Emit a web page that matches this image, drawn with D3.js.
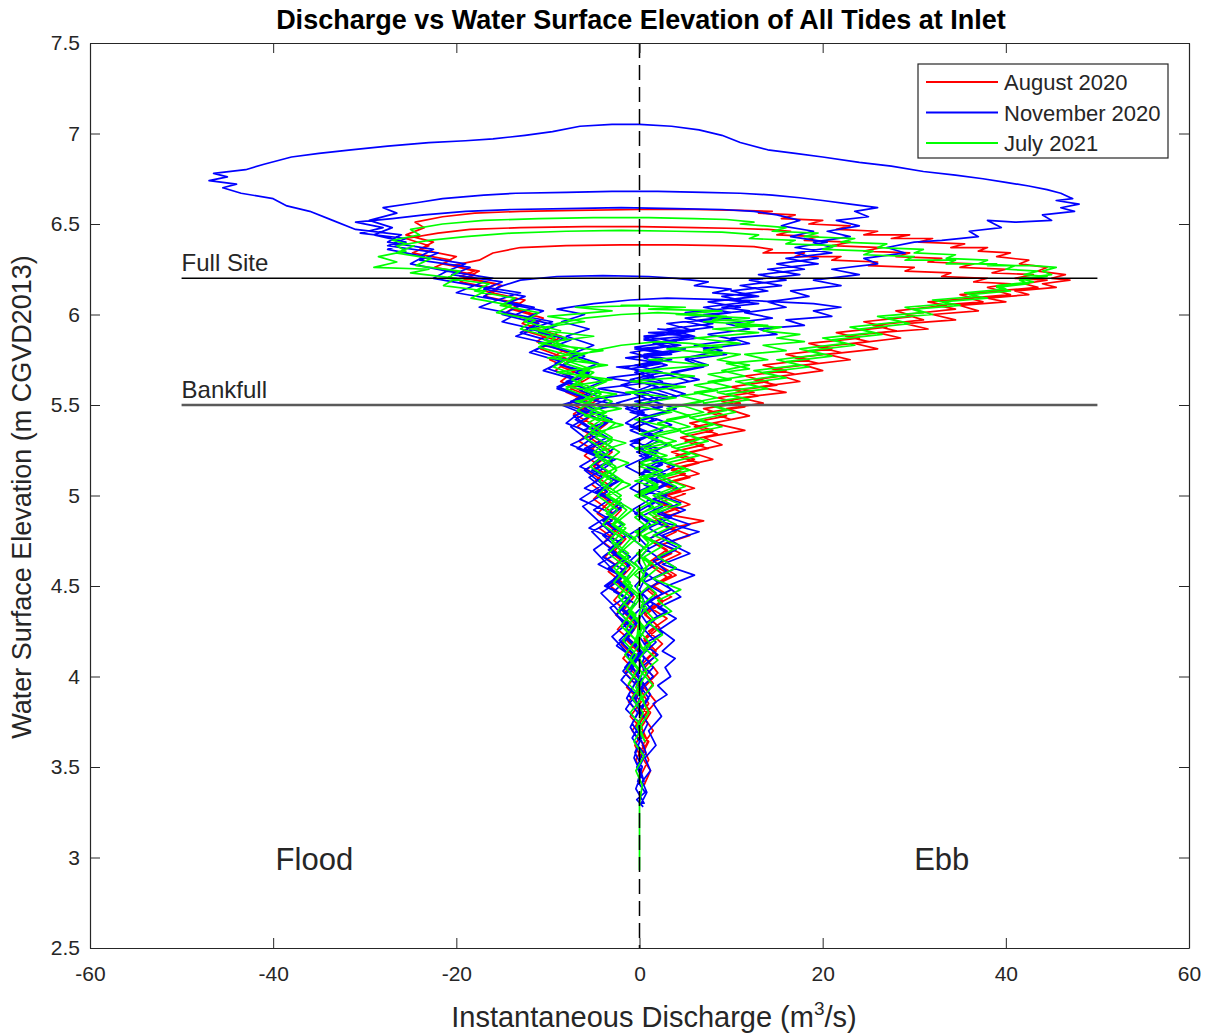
<!DOCTYPE html>
<html>
<head>
<meta charset="utf-8">
<script src="https://cdn.jsdelivr.net/npm/d3@7"></script>
<style>
  body { margin: 0; background: #fff; }
  text { font-family: "Liberation Sans", Arial, sans-serif; fill: #262626; }
</style>
</head>
<body>
<div id="chart"></div>
<script>
// [discharge m3/s, water surface elevation m], tide by tide
const augTide1 = [[0.5,3.4],[1.2,3.48],[0.2,3.56],[1.0,3.64],[-0.3,3.72],[0.8,3.8],[-0.6,3.88],[0.5,3.96],[-1.0,4.04],[0.2,4.12],[-1.4,4.2],[-0.3,4.28],[-1.8,4.36],[-0.6,4.44],[-2.5,4.52],[-1.0,4.6],[-3.0,4.68],[-1.5,4.76],[-3.5,4.84],[-2.0,4.92],[-4.2,5.0],[-2.5,5.08],[-5.0,5.16],[-3.0,5.24],[-5.5,5.32],[-3.5,5.4],[-6.5,5.47],[-4.5,5.53],[-7.5,5.59],[-5.5,5.65],[-8.5,5.71],[-7.0,5.77],[-10.0,5.83],[-8.5,5.88],[-12.0,5.93],[-10.5,5.98],[-14.0,6.03],[-12.5,6.08],[-16.5,6.12],[-15.0,6.16],[-19.0,6.2],[-17.5,6.24],[-21.5,6.28],[-20.0,6.32],[-24.0,6.36],[-22.5,6.4],[-25.5,6.44],[-23.5,6.48],[-24.5,6.51],[-21.5,6.54],[-18.0,6.56],[-13.0,6.57],[-7.0,6.575],[0.0,6.58],[6.0,6.58],[11.0,6.575],[14.5,6.57],[13.0,6.56],[17.0,6.55],[15.5,6.53],[20.0,6.52],[18.5,6.5],[23.0,6.49],[21.5,6.47],[26.0,6.46],[24.5,6.44],[29.5,6.44],[27.5,6.42],[32.0,6.42],[30.5,6.4],[35.5,6.39],[34.0,6.37],[38.0,6.37],[37.0,6.35],[40.5,6.34],[39.0,6.32],[42.5,6.3],[41.5,6.28],[44.5,6.26],[43.5,6.24],[46.5,6.22],[45.0,6.2],[47.0,6.19],[44.0,6.17],[45.5,6.15],[41.0,6.13],[42.5,6.11],[38.0,6.09],[40.0,6.07],[35.0,6.05],[37.0,6.02],[32.0,6.0],[34.5,5.97],[29.0,5.95],[31.5,5.92],[26.0,5.9],[28.5,5.87],[23.5,5.84],[26.0,5.81],[20.5,5.78],[23.0,5.75],[18.0,5.72],[20.0,5.69],[15.5,5.66],[17.5,5.63],[13.0,5.6],[16.0,5.57],[11.0,5.54],[13.5,5.51],[9.5,5.48],[12.0,5.44],[8.0,5.4],[11.5,5.36],[7.0,5.32],[9.0,5.28],[5.5,5.24],[8.0,5.2],[4.5,5.16],[6.5,5.12],[3.5,5.08],[6.0,5.04],[3.0,5.0],[5.5,4.95],[2.5,4.9],[7.0,4.86],[3.5,4.82],[5.5,4.78],[2.5,4.73],[4.5,4.68],[2.0,4.62],[4.0,4.56],[1.5,4.5],[3.5,4.44],[1.2,4.38],[3.0,4.32],[1.0,4.25],[2.5,4.18],[0.8,4.1],[2.0,4.02],[0.5,3.94],[1.8,3.86],[0.4,3.78],[1.5,3.7],[0.3,3.62],[1.0,3.54],[0.2,3.46]];
const augTide2 = [[-0.4,3.54],[0.5,3.62],[-0.8,3.7],[0.3,3.78],[-1.2,3.86],[0.0,3.94],[-1.6,4.02],[-0.4,4.1],[-2.0,4.18],[-0.8,4.26],[-2.6,4.34],[-1.2,4.42],[-3.2,4.5],[-1.6,4.58],[-3.8,4.66],[-2.2,4.74],[-4.4,4.82],[-2.8,4.9],[-5.0,4.98],[-3.4,5.06],[-5.8,5.14],[-4.0,5.22],[-6.6,5.3],[-4.6,5.38],[-7.2,5.45],[-5.2,5.51],[-8.0,5.57],[-6.2,5.63],[-9.2,5.69],[-7.6,5.75],[-10.8,5.81],[-9.2,5.86],[-12.6,5.91],[-11.0,5.96],[-14.6,6.01],[-13.0,6.06],[-17.0,6.1],[-15.4,6.14],[-19.6,6.18],[-18.0,6.22],[-22.4,6.26],[-20.6,6.3],[-24.8,6.34],[-23.0,6.38],[-25.5,6.42],[-22.0,6.45],[-18.5,6.47],[-13.0,6.48],[-6.0,6.485],[0.0,6.485],[6.0,6.48],[11.0,6.475],[14.0,6.47],[16.5,6.46],[15.0,6.44],[19.5,6.43],[18.0,6.41],[23.0,6.4],[21.0,6.38],[26.5,6.37],[24.5,6.35],[29.5,6.34],[28.0,6.32],[33.0,6.31],[31.5,6.29],[36.5,6.28],[35.0,6.26],[40.0,6.25],[38.5,6.23],[43.0,6.22],[41.0,6.2],[44.5,6.19],[42.0,6.17],[43.5,6.15],[39.0,6.13],[40.5,6.11],[36.0,6.09],[37.5,6.07],[32.5,6.05],[34.5,6.03],[29.0,6.0],[31.0,5.97],[25.5,5.94],[28.0,5.91],[22.5,5.88],[25.0,5.85],[19.5,5.82],[22.0,5.79],[17.0,5.76],[19.5,5.73],[14.5,5.7],[17.0,5.67],[12.5,5.64],[15.0,5.61],[10.5,5.58],[13.0,5.55],[9.0,5.52],[11.5,5.49],[7.5,5.46],[10.0,5.42],[6.0,5.38],[8.5,5.34],[5.0,5.3],[7.5,5.26],[4.0,5.22],[6.5,5.18],[3.5,5.14],[5.5,5.1],[2.5,5.06],[5.0,5.01],[2.0,4.96],[4.5,4.91],[1.5,4.86],[4.0,4.8],[1.5,4.74],[3.5,4.68],[1.0,4.62],[3.0,4.55],[0.8,4.48],[2.5,4.41],[0.6,4.34],[2.2,4.27],[0.5,4.2],[1.8,4.12],[0.4,4.04],[1.5,3.96],[0.3,3.88],[1.2,3.8],[0.2,3.72],[0.9,3.64],[0.1,3.56]];
const augTide3 = [[-0.5,3.62],[0.4,3.7],[-1.0,3.78],[0.2,3.86],[-1.4,3.94],[-0.2,4.02],[-1.8,4.1],[-0.5,4.18],[-2.4,4.26],[-1.0,4.34],[-2.8,4.42],[-1.4,4.5],[-3.4,4.58],[-1.8,4.66],[-3.9,4.74],[-2.4,4.82],[-4.6,4.9],[-3.0,4.98],[-5.2,5.06],[-3.6,5.14],[-6.0,5.22],[-4.2,5.3],[-6.8,5.38],[-5.0,5.45],[-7.6,5.51],[-6.0,5.57],[-8.6,5.63],[-7.0,5.69],[-9.8,5.75],[-8.4,5.8],[-11.2,5.85],[-9.8,5.9],[-12.8,5.95],[-11.4,6.0],[-14.8,6.05],[-13.4,6.09],[-17.0,6.13],[-15.6,6.17],[-19.6,6.21],[-18.0,6.24],[-20.5,6.27],[-17.5,6.3],[-16.0,6.34],[-13.0,6.37],[-8.0,6.38],[-2.0,6.385],[4.0,6.385],[9.0,6.38],[12.5,6.375],[14.5,6.36],[13.5,6.34],[18.0,6.34],[17.0,6.32],[22.0,6.32],[21.0,6.3],[26.0,6.29],[25.0,6.27],[30.0,6.26],[29.0,6.24],[34.0,6.23],[33.0,6.21],[38.0,6.2],[36.5,6.18],[40.5,6.17],[38.0,6.15],[39.5,6.13],[35.0,6.11],[36.5,6.09],[31.5,6.07],[33.5,6.05],[28.0,6.02],[30.0,5.99],[24.5,5.96],[27.0,5.93],[21.5,5.9],[24.0,5.87],[18.5,5.84],[21.0,5.81],[16.0,5.78],[18.5,5.75],[13.5,5.72],[16.0,5.69],[11.5,5.66],[14.0,5.63],[10.0,5.6],[12.5,5.57],[8.5,5.54],[11.0,5.51],[7.0,5.48],[9.5,5.44],[5.5,5.4],[8.0,5.36],[4.5,5.32],[7.0,5.28],[3.5,5.24],[6.0,5.2],[3.0,5.16],[5.0,5.12],[2.0,5.08],[4.5,5.03],[1.5,4.98],[4.0,4.93],[1.5,4.88],[3.5,4.82],[1.0,4.76],[3.0,4.7],[1.0,4.63],[3.5,4.56],[1.0,4.49],[2.5,4.42],[0.5,4.35],[2.0,4.28],[0.5,4.21],[1.8,4.14],[0.3,4.07],[1.5,4.0],[0.2,3.92],[1.0,3.85],[0.1,3.78]];

const novTide1 = [[0.4,3.28],[-0.3,3.32],[0.6,3.36],[-0.2,3.42],[0.3,3.5],[-0.5,3.58],[0.2,3.66],[-0.8,3.74],[0.1,3.82],[-1.2,3.9],[-0.3,3.98],[-1.6,4.05],[-0.5,4.12],[-2.2,4.2],[-0.8,4.27],[-1.9,4.34],[-0.4,4.4],[-2.8,4.47],[-1.2,4.54],[-3.4,4.6],[-1.0,4.66],[-2.6,4.72],[-4.0,4.78],[-1.8,4.84],[-3.6,4.9],[-2.0,4.96],[-4.8,5.02],[-2.4,5.08],[-5.2,5.14],[-3.0,5.2],[-6.0,5.26],[-3.5,5.32],[-5.5,5.38],[-7.2,5.44],[-4.0,5.49],[-7.0,5.53],[-5.0,5.58],[-8.0,5.63],[-5.5,5.68],[-9.2,5.73],[-6.5,5.78],[-10.5,5.83],[-8.0,5.87],[-12.0,5.92],[-9.5,5.96],[-13.5,6.0],[-11.5,6.04],[-15.5,6.08],[-13.0,6.12],[-18.0,6.16],[-16.0,6.2],[-21.0,6.24],[-19.0,6.28],[-24.0,6.32],[-22.5,6.36],[-27.5,6.4],[-26.0,6.44],[-31.0,6.47],[-33.5,6.52],[-36.0,6.57],[-38.5,6.6],[-40.0,6.64],[-43.5,6.67],[-45.5,6.7],[-44.0,6.72],[-47.0,6.74],[-45.0,6.76],[-46.5,6.78],[-43.0,6.8],[-41.0,6.83],[-38.0,6.87],[-35.0,6.89],[-31.5,6.91],[-27.5,6.93],[-23.0,6.95],[-19.0,6.96],[-16.0,6.97],[-12.5,6.99],[-9.5,7.01],[-6.5,7.04],[-3.0,7.05],[0.0,7.05],[3.5,7.04],[6.5,7.02],[9.0,6.99],[11.0,6.95],[14.0,6.91],[17.0,6.89],[20.0,6.87],[24.0,6.84],[27.5,6.82],[31.0,6.79],[34.5,6.77],[37.5,6.75],[40.0,6.73],[42.5,6.71],[44.5,6.69],[46.0,6.67],[47.3,6.64],[45.5,6.63],[48.0,6.61],[46.0,6.59],[47.5,6.57],[44.0,6.55],[45.0,6.52],[41.0,6.51],[38.0,6.52],[39.5,6.48],[36.0,6.46],[37.0,6.43],[33.0,6.41],[30.0,6.4],[27.0,6.37],[29.0,6.34],[24.5,6.31],[26.0,6.28],[21.0,6.25],[24.0,6.22],[19.0,6.19],[22.0,6.16],[16.5,6.13],[18.5,6.1],[14.0,6.07],[16.0,6.04],[11.5,6.01],[14.5,5.98],[9.5,5.95],[12.0,5.92],[7.5,5.89],[10.5,5.86],[6.0,5.83],[9.0,5.8],[5.0,5.76],[7.5,5.72],[3.5,5.68],[6.5,5.64],[2.5,5.6],[5.0,5.56],[1.5,5.52],[4.0,5.48],[1.0,5.44],[3.5,5.39],[0.5,5.34],[3.0,5.28],[0.8,5.22],[3.8,5.16],[1.2,5.1],[4.2,5.04],[1.5,4.98],[5.0,4.92],[2.0,4.86],[6.5,4.8],[3.0,4.74],[5.5,4.68],[2.5,4.62],[6.0,4.56],[3.0,4.5],[4.5,4.44],[2.0,4.38],[4.0,4.32],[2.2,4.26],[3.8,4.2],[2.5,4.14],[3.9,4.1],[2.8,4.05],[3.4,4.0],[2.0,3.95],[3.0,3.9],[1.5,3.85],[2.4,3.78],[1.0,3.7],[1.8,3.62],[0.6,3.55],[1.2,3.48],[0.3,3.42],[0.8,3.36],[0.2,3.3]];
const novTide2 = [[0.5,3.3],[-0.4,3.38],[0.2,3.46],[-0.6,3.55],[0.0,3.64],[-1.0,3.72],[-0.2,3.8],[-1.4,3.88],[-0.5,3.96],[-1.8,4.03],[-0.6,4.1],[-2.5,4.17],[-1.0,4.24],[-2.0,4.31],[-3.2,4.38],[-1.5,4.44],[-3.8,4.5],[-2.2,4.56],[-4.5,4.62],[-2.5,4.68],[-4.0,4.74],[-5.2,4.8],[-3.0,4.86],[-5.0,4.92],[-3.2,4.98],[-6.0,5.04],[-4.0,5.1],[-6.5,5.16],[-4.5,5.22],[-7.5,5.28],[-5.0,5.34],[-8.0,5.4],[-6.5,5.46],[-8.5,5.5],[-6.0,5.54],[-9.0,5.59],[-7.0,5.64],[-10.5,5.69],[-8.5,5.74],[-12.0,5.79],[-10.0,5.84],[-13.5,5.88],[-11.5,5.92],[-15.0,5.96],[-13.5,6.0],[-17.5,6.04],[-15.5,6.08],[-20.0,6.12],[-18.0,6.16],[-22.5,6.2],[-21.0,6.24],[-25.0,6.28],[-23.5,6.32],[-27.5,6.36],[-25.5,6.4],[-29.0,6.44],[-27.0,6.48],[-29.5,6.52],[-26.5,6.56],[-28.0,6.59],[-24.0,6.62],[-21.5,6.64],[-17.0,6.66],[-13.5,6.67],[-8.0,6.675],[-3.0,6.68],[2.0,6.68],[7.0,6.675],[11.0,6.67],[14.5,6.66],[17.5,6.645],[20.0,6.63],[23.0,6.61],[26.0,6.59],[23.5,6.57],[25.0,6.54],[21.5,6.52],[24.0,6.49],[20.5,6.46],[23.0,6.43],[19.0,6.4],[21.0,6.37],[17.0,6.34],[19.5,6.31],[15.0,6.28],[18.0,6.25],[13.0,6.22],[16.0,6.19],[11.0,6.16],[14.0,6.13],[9.0,6.1],[12.0,6.07],[7.0,6.04],[10.0,6.01],[5.0,5.98],[8.0,5.95],[3.0,5.92],[6.0,5.88],[1.5,5.84],[4.5,5.8],[0.5,5.76],[3.0,5.72],[-0.5,5.68],[2.5,5.63],[-0.2,5.58],[2.0,5.53],[-0.5,5.48],[1.5,5.42],[-1.0,5.36],[2.0,5.3],[-0.3,5.24],[2.5,5.18],[0.0,5.12],[3.0,5.06],[0.5,5.0],[2.5,4.94],[0.0,4.88],[3.5,4.82],[1.0,4.76],[4.0,4.7],[1.5,4.64],[3.0,4.58],[0.5,4.52],[2.5,4.46],[0.8,4.4],[2.0,4.33],[0.5,4.26],[1.8,4.19],[0.3,4.12],[1.5,4.05],[0.2,3.98],[1.2,3.9],[0.0,3.82],[0.9,3.74],[0.1,3.66],[0.7,3.58],[0.0,3.5],[0.5,3.42]];
const novTide3 = [[-0.3,3.5],[0.4,3.58],[-0.8,3.66],[0.1,3.74],[-1.5,3.82],[-0.4,3.9],[-2.0,3.98],[-0.8,4.06],[-1.5,4.14],[-3.0,4.22],[-1.2,4.3],[-2.6,4.38],[-4.2,4.46],[-2.0,4.54],[-3.5,4.62],[-5.0,4.7],[-2.8,4.78],[-4.5,4.86],[-6.2,4.94],[-3.5,5.02],[-5.5,5.1],[-3.0,5.18],[-6.8,5.26],[-4.5,5.34],[-7.0,5.42],[-5.0,5.48],[-7.5,5.52],[-4.5,5.57],[-7.8,5.62],[-5.5,5.67],[-8.5,5.72],[-6.0,5.77],[-9.5,5.82],[-7.5,5.86],[-11.0,5.9],[-9.0,5.94],[-12.5,5.98],[-10.5,6.02],[-14.5,6.06],[-12.5,6.1],[-17.0,6.14],[-15.0,6.18],[-20.5,6.22],[-18.5,6.26],[-24.0,6.3],[-22.0,6.34],[-27.5,6.38],[-25.5,6.42],[-30.5,6.45],[-28.0,6.48],[-31.0,6.51],[-27.0,6.53],[-23.5,6.55],[-19.0,6.57],[-14.0,6.58],[-8.0,6.585],[-2.0,6.59],[4.0,6.585],[9.0,6.58],[12.5,6.57],[15.0,6.55],[17.5,6.52],[15.5,6.49],[19.0,6.46],[16.5,6.43],[20.5,6.4],[17.0,6.37],[21.0,6.34],[16.0,6.31],[19.5,6.28],[14.0,6.25],[17.5,6.22],[12.0,6.19],[15.5,6.16],[10.0,6.13],[13.0,6.1],[7.5,6.07],[11.0,6.04],[5.0,6.01],[8.5,5.98],[3.0,5.95],[6.0,5.91],[0.5,5.87],[4.0,5.83],[-1.0,5.79],[2.5,5.75],[-1.5,5.71],[1.5,5.66],[-2.0,5.61],[1.0,5.56],[-2.5,5.51],[0.5,5.46],[-1.5,5.4],[1.5,5.34],[-1.0,5.28],[1.0,5.22],[-1.5,5.16],[0.8,5.1],[-1.0,5.04],[1.2,4.98],[-0.8,4.92],[1.0,4.85],[-1.2,4.78],[0.5,4.71],[-1.0,4.64],[0.8,4.57],[-0.5,4.5],[1.0,4.42],[-0.6,4.34],[0.6,4.26],[-0.4,4.18],[0.5,4.1],[-0.2,4.02],[0.4,3.94],[-0.1,3.86],[0.3,3.78]];
const novTide4 = [[-0.5,3.86],[0.2,3.94],[-1.0,4.02],[-0.2,4.1],[-1.8,4.18],[-0.6,4.26],[-2.5,4.34],[-1.0,4.42],[-3.5,4.5],[-1.5,4.58],[-4.0,4.66],[-2.0,4.74],[-5.5,4.82],[-3.0,4.9],[-6.5,4.98],[-4.0,5.06],[-6.0,5.14],[-3.5,5.22],[-5.5,5.3],[-7.5,5.38],[-5.0,5.45],[-8.0,5.5],[-6.0,5.55],[-9.0,5.6],[-7.0,5.65],[-10.0,5.7],[-8.0,5.75],[-11.5,5.8],[-9.5,5.85],[-13.0,5.9],[-11.0,5.95],[-15.0,6.0],[-13.0,6.05],[-17.0,6.1],[-15.5,6.15],[-13.0,6.19],[-9.0,6.21],[-4.0,6.215],[1.0,6.21],[4.0,6.2],[7.5,6.18],[6.0,6.16],[10.0,6.14],[8.0,6.12],[12.5,6.1],[9.5,6.08],[13.0,6.06],[9.0,6.04],[12.0,6.02],[7.0,6.0],[10.0,5.98],[5.0,5.96],[8.0,5.93],[3.0,5.9],[6.5,5.87],[1.5,5.84],[5.0,5.81],[0.5,5.78],[3.5,5.75],[-0.5,5.72],[2.5,5.68],[-1.0,5.64],[2.0,5.6],[-0.5,5.56],[1.5,5.52],[-1.5,5.48],[1.0,5.44],[-1.0,5.38],[2.0,5.32],[0.0,5.26],[2.5,5.2],[0.5,5.14],[3.5,5.08],[1.0,5.02],[4.5,4.96],[2.0,4.9],[5.5,4.84],[2.5,4.78],[4.5,4.72],[2.0,4.66],[4.0,4.6],[1.5,4.54],[3.5,4.48],[1.0,4.42],[3.0,4.36],[0.8,4.3],[2.5,4.24],[0.5,4.18],[2.0,4.12],[0.4,4.06],[1.5,4.0],[0.2,3.94],[1.0,3.88],[0.0,3.8]];
const novTide5 = [[-0.6,3.9],[0.3,3.98],[-1.0,4.06],[0.0,4.14],[-1.6,4.22],[-0.4,4.3],[-2.2,4.38],[-0.8,4.46],[-2.8,4.54],[-1.2,4.62],[-3.4,4.7],[-1.5,4.78],[-4.0,4.86],[-2.0,4.94],[-4.5,5.02],[-2.5,5.1],[-5.0,5.18],[-2.8,5.26],[-5.5,5.34],[-3.0,5.42],[-6.0,5.48],[-3.5,5.53],[-6.5,5.58],[-4.0,5.63],[-7.0,5.68],[-4.5,5.73],[-7.5,5.78],[-5.0,5.83],[-8.0,5.88],[-5.5,5.92],[-8.5,5.96],[-6.0,6.0],[-9.0,6.03],[-5.0,6.06],[-1.0,6.08],[3.0,6.09],[7.0,6.085],[11.0,6.08],[15.0,6.07],[19.0,6.06],[22.0,6.04],[19.0,6.02],[21.0,5.99],[16.0,5.97],[18.0,5.94],[13.0,5.92],[15.0,5.89],[10.0,5.87],[12.0,5.84],[7.0,5.81],[9.5,5.78],[5.0,5.75],[7.0,5.71],[3.0,5.67],[5.5,5.63],[1.5,5.59],[4.0,5.55],[0.5,5.51],[3.0,5.46],[0.0,5.41],[2.5,5.36],[-0.5,5.3],[2.0,5.24],[0.0,5.18],[2.8,5.12],[0.5,5.06],[3.0,5.0],[1.0,4.94],[3.5,4.88],[1.0,4.82],[3.0,4.76],[0.8,4.7],[2.5,4.64],[0.5,4.58],[2.0,4.52],[0.3,4.46],[1.5,4.4],[0.2,4.34],[1.0,4.28],[0.0,4.22],[0.8,4.16],[-0.2,4.1],[0.5,4.04],[0.0,3.98]];
const novTide6 = [[-0.8,4.06],[0.2,4.14],[-1.4,4.22],[-0.2,4.3],[-2.0,4.38],[-0.6,4.46],[-2.6,4.54],[-1.0,4.62],[-3.2,4.7],[-1.4,4.78],[-3.8,4.86],[-1.8,4.94],[-4.4,5.02],[-2.2,5.08],[-5.0,5.14],[-2.6,5.2],[-5.6,5.26],[-3.0,5.31],[-6.2,5.36],[-3.4,5.41],[-6.8,5.46],[-2.0,5.5],[-5.5,5.53],[-1.0,5.56],[-4.5,5.59],[0.5,5.62],[-3.5,5.65],[1.5,5.68],[-2.5,5.71],[2.5,5.73],[-1.5,5.76],[3.5,5.78],[-0.5,5.81],[4.5,5.83],[0.5,5.86],[5.5,5.88],[1.0,5.9],[6.0,5.91],[2.0,5.92],[5.0,5.9],[0.5,5.88],[4.0,5.85],[-0.5,5.82],[3.0,5.79],[-1.5,5.76],[2.5,5.73],[-1.0,5.7],[3.5,5.67],[0.0,5.64],[4.0,5.61],[0.5,5.58],[3.0,5.55],[-0.5,5.52],[2.5,5.49],[-1.0,5.46],[2.0,5.42],[-0.5,5.38],[1.5,5.34],[-1.0,5.3],[2.0,5.26],[0.0,5.22],[2.5,5.17],[0.3,5.12],[2.0,5.07],[-0.2,5.02],[1.5,4.96],[-0.5,4.9],[1.2,4.84],[-0.3,4.78],[1.0,4.71],[-0.2,4.64],[0.8,4.56],[0.0,4.48],[0.6,4.4],[0.0,4.32]];

const julTide1 = [[0.0,2.93],[0.0,3.1],[0.0,3.3],[0.3,3.4],[-0.4,3.48],[0.5,3.56],[-0.6,3.64],[0.3,3.72],[-1.0,3.8],[0.2,3.88],[-1.2,3.96],[-0.2,4.04],[-1.6,4.12],[-0.4,4.2],[-2.0,4.28],[-0.8,4.36],[-2.3,4.44],[-1.0,4.52],[-2.8,4.6],[-1.2,4.68],[-3.2,4.76],[-1.6,4.84],[-3.8,4.92],[-2.0,5.0],[-4.4,5.08],[-2.6,5.16],[-5.0,5.24],[-3.0,5.32],[-5.6,5.4],[-3.6,5.46],[-6.4,5.52],[-4.4,5.58],[-7.4,5.64],[-5.4,5.7],[-8.8,5.76],[-6.8,5.81],[-10.4,5.86],[-8.6,5.91],[-12.6,5.96],[-11.0,6.01],[-15.2,6.05],[-13.6,6.09],[-18.0,6.13],[-16.4,6.17],[-21.0,6.2],[-19.6,6.24],[-24.4,6.27],[-22.8,6.31],[-26.6,6.34],[-24.6,6.38],[-27.0,6.41],[-24.0,6.44],[-25.0,6.47],[-21.5,6.5],[-17.0,6.52],[-11.0,6.53],[-5.0,6.535],[1.0,6.535],[6.0,6.53],[9.5,6.525],[12.5,6.51],[11.0,6.5],[16.0,6.48],[14.5,6.46],[19.5,6.45],[18.0,6.43],[23.5,6.42],[22.0,6.4],[27.0,6.39],[26.0,6.37],[31.0,6.36],[30.0,6.34],[34.5,6.33],[33.5,6.31],[38.0,6.3],[37.0,6.28],[41.0,6.27],[40.0,6.25],[43.5,6.24],[42.0,6.22],[44.5,6.21],[41.5,6.19],[42.5,6.17],[39.0,6.15],[40.5,6.13],[36.0,6.11],[38.0,6.09],[33.0,6.07],[35.0,6.05],[30.0,6.03],[32.0,6.0],[27.0,5.98],[29.5,5.95],[24.0,5.92],[26.5,5.89],[21.0,5.86],[23.5,5.83],[18.5,5.8],[21.0,5.77],[16.0,5.74],[18.5,5.71],[13.5,5.68],[16.0,5.65],[11.5,5.62],[14.0,5.59],[9.5,5.56],[12.0,5.53],[8.0,5.5],[10.5,5.46],[6.5,5.42],[9.0,5.38],[5.0,5.34],[7.5,5.3],[4.0,5.26],[6.5,5.22],[3.0,5.18],[5.5,5.14],[2.5,5.1],[5.0,5.05],[2.0,5.0],[4.5,4.95],[1.5,4.9],[4.0,4.84],[1.5,4.78],[4.5,4.72],[2.0,4.66],[4.0,4.6],[1.5,4.54],[4.5,4.48],[2.0,4.42],[3.5,4.36],[1.0,4.3],[2.5,4.23],[0.5,4.16],[2.0,4.09],[0.3,4.02],[1.5,3.95],[0.2,3.88],[1.0,3.8],[0.0,3.72],[0.6,3.64]];
const julTide2 = [[-0.3,3.72],[0.4,3.8],[-0.8,3.88],[0.2,3.96],[-1.4,4.04],[-0.3,4.12],[-1.8,4.2],[-0.6,4.28],[-2.4,4.36],[-1.0,4.44],[-2.8,4.52],[-1.4,4.6],[-3.4,4.68],[-1.8,4.76],[-4.0,4.84],[-2.4,4.92],[-4.6,5.0],[-3.0,5.08],[-5.4,5.16],[-3.4,5.24],[-6.0,5.32],[-4.0,5.4],[-6.8,5.47],[-5.0,5.53],[-8.0,5.59],[-6.0,5.65],[-9.4,5.71],[-7.4,5.77],[-11.0,5.82],[-9.2,5.87],[-13.0,5.92],[-11.4,5.97],[-15.6,6.01],[-14.0,6.05],[-18.4,6.09],[-16.8,6.13],[-21.4,6.16],[-20.0,6.2],[-25.0,6.23],[-23.0,6.25],[-29.0,6.26],[-26.5,6.29],[-28.5,6.32],[-25.5,6.35],[-26.5,6.38],[-23.0,6.41],[-19.0,6.43],[-14.0,6.45],[-8.0,6.46],[-2.0,6.465],[4.0,6.46],[9.0,6.455],[13.0,6.44],[12.0,6.42],[17.0,6.41],[16.0,6.39],[21.5,6.38],[20.0,6.36],[25.5,6.35],[24.5,6.33],[30.0,6.32],[29.0,6.3],[34.5,6.3],[33.5,6.28],[39.0,6.28],[38.0,6.27],[43.0,6.27],[45.5,6.26],[44.0,6.24],[45.0,6.22],[41.5,6.2],[43.0,6.18],[39.0,6.16],[40.0,6.14],[35.5,6.12],[37.0,6.1],[32.0,6.08],[34.0,6.06],[29.0,6.04],[31.0,6.01],[26.0,5.99],[28.5,5.96],[23.0,5.93],[25.5,5.9],[20.0,5.87],[22.5,5.84],[17.5,5.81],[20.0,5.78],[15.0,5.75],[17.5,5.72],[12.5,5.69],[15.0,5.66],[10.5,5.63],[13.0,5.6],[8.5,5.57],[11.0,5.54],[7.0,5.51],[9.5,5.47],[5.5,5.43],[8.0,5.39],[4.5,5.35],[6.5,5.31],[3.5,5.27],[5.5,5.23],[2.5,5.19],[5.0,5.15],[2.0,5.1],[4.0,5.05],[1.5,5.0],[3.5,4.95],[1.0,4.9],[3.0,4.84],[0.5,4.78],[2.5,4.72],[0.5,4.66],[2.0,4.6],[0.3,4.53],[1.8,4.46],[0.2,4.39],[1.5,4.32],[0.0,4.25],[1.2,4.18],[0.0,4.1],[0.8,4.02],[-0.1,3.94],[0.5,3.86]];
const julTide3 = [[-0.4,3.94],[0.3,4.02],[-1.0,4.1],[0.0,4.18],[-1.5,4.26],[-0.4,4.34],[-2.0,4.42],[-0.8,4.5],[-2.6,4.58],[-1.2,4.66],[-3.0,4.74],[-1.5,4.82],[-3.6,4.9],[-2.0,4.98],[-4.2,5.06],[-2.5,5.14],[-4.8,5.22],[-3.0,5.3],[-5.5,5.37],[-3.6,5.44],[-6.2,5.5],[-4.2,5.56],[-7.0,5.62],[-5.0,5.68],[-8.2,5.73],[-6.2,5.78],[-9.6,5.83],[-8.0,5.87],[-11.0,5.91],[-9.0,5.95],[-6.0,5.98],[-2.0,6.0],[2.0,6.01],[6.0,6.0],[9.5,5.99],[8.0,5.97],[12.5,5.96],[10.5,5.94],[15.5,5.93],[13.5,5.91],[17.5,5.89],[15.0,5.87],[18.0,5.85],[13.5,5.83],[16.0,5.8],[11.5,5.78],[14.0,5.75],[9.5,5.73],[12.0,5.7],[7.5,5.67],[10.0,5.64],[6.0,5.61],[8.5,5.58],[4.5,5.55],[7.0,5.52],[3.0,5.48],[5.5,5.44],[2.0,5.4],[4.5,5.36],[1.0,5.32],[3.5,5.28],[0.5,5.24],[3.0,5.2],[0.0,5.16],[2.5,5.12],[-0.5,5.08],[2.0,5.04],[0.0,5.0],[2.5,4.95],[0.0,4.9],[2.0,4.85],[-0.5,4.8],[1.5,4.74],[-0.3,4.68],[1.2,4.62],[-0.5,4.56],[1.0,4.5],[-0.3,4.44],[0.8,4.38],[-0.2,4.32],[0.6,4.26],[-0.1,4.2],[0.5,4.14]];
const julTide4 = [[-0.5,4.2],[0.2,4.28],[-1.2,4.36],[-0.2,4.44],[-1.8,4.52],[-0.5,4.6],[-2.4,4.68],[-1.0,4.76],[-3.0,4.84],[-1.4,4.92],[-3.6,5.0],[-1.8,5.08],[-4.2,5.16],[-2.2,5.24],[-4.8,5.32],[-2.6,5.4],[-5.4,5.46],[-3.0,5.52],[-6.0,5.58],[-3.6,5.63],[-6.6,5.68],[-4.2,5.72],[-7.2,5.76],[-5.0,5.8],[-2.0,5.83],[2.0,5.85],[5.5,5.84],[9.0,5.82],[7.0,5.8],[11.0,5.78],[8.5,5.75],[12.0,5.72],[9.0,5.69],[11.5,5.66],[7.5,5.63],[10.0,5.6],[6.0,5.57],[8.5,5.54],[4.5,5.5],[7.0,5.46],[3.0,5.42],[5.5,5.38],[1.5,5.34],[4.0,5.3],[0.5,5.26],[3.0,5.22],[0.0,5.18],[2.5,5.14],[0.0,5.1],[2.0,5.05],[-0.5,5.0],[1.5,4.94],[-0.5,4.88],[1.0,4.82],[-0.8,4.76],[0.8,4.7],[-0.5,4.63],[0.5,4.56],[-0.3,4.49],[0.4,4.42],[0.0,4.35]];
const julTide5 = [[-0.3,4.2],[0.4,4.28],[-1.0,4.36],[0.2,4.44],[-1.6,4.52],[0.0,4.6],[-2.2,4.68],[-0.4,4.76],[-2.8,4.84],[-0.8,4.92],[-3.4,5.0],[-1.0,5.06],[-4.0,5.12],[-1.2,5.18],[-4.6,5.24],[-1.5,5.29],[-5.2,5.34],[-1.8,5.39],[-6.0,5.44],[-2.0,5.48],[-7.0,5.52],[-2.5,5.56],[-8.0,5.6],[-3.0,5.64],[-9.0,5.68],[-3.5,5.72],[-10.0,5.76],[-4.0,5.8],[-11.0,5.84],[-5.0,5.88],[-12.0,5.92],[-6.0,5.96],[-10.0,5.99],[-3.0,6.02],[-7.0,6.04],[1.0,6.05],[-2.0,6.05],[5.0,6.04],[1.0,6.03],[9.0,6.02],[4.0,6.0],[12.0,5.98],[7.0,5.96],[14.0,5.94],[8.0,5.92],[13.0,5.9],[6.0,5.87],[11.0,5.84],[3.0,5.81],[9.0,5.78],[1.0,5.75],[7.5,5.72],[0.0,5.69],[6.0,5.66],[-1.0,5.63],[5.0,5.6],[-1.5,5.57],[4.0,5.54],[-1.0,5.5],[3.5,5.46],[-0.5,5.42],[3.0,5.38],[0.0,5.34],[2.5,5.3],[-0.5,5.26],[2.0,5.22],[0.0,5.18],[2.5,5.14],[0.5,5.1],[2.0,5.06],[0.0,5.02],[1.5,4.97],[-0.3,4.92],[1.2,4.86],[-0.2,4.8],[1.0,4.74],[0.0,4.68],[0.8,4.6],[0.0,4.52]];

const seriesNames = ["August 2020", "November 2020", "July 2021"];
const seriesColors = ["#ff0000", "#0000ff", "#00ff00"];
const seriesData = [
  [...augTide1, ...augTide2, ...augTide3],
  [...novTide1, ...novTide2, ...novTide3, ...novTide4, ...novTide5, ...novTide6],
  [...julTide1, ...julTide2, ...julTide3, ...julTide4, ...julTide5]
];

const xTicks = [-60, -40, -20, 0, 20, 40, 60];
const yTicks = [2.5, 3, 3.5, 4, 4.5, 5, 5.5, 6, 6.5, 7, 7.5];
const refLines = [{ label: "Full Site", h: 6.2, color: "#000000", width: 1.5 },
                  { label: "Bankfull", h: 5.5, color: "#5a5a5a", width: 2.5 }];
const regionLabels = [{ label: "Flood", q: -35.5 }, { label: "Ebb", q: 33 }];

const W = 1211, H = 1036;
const margin = { top: 43, right: 22, bottom: 88, left: 90 };
const width = W - margin.left - margin.right;
const height = H - margin.top - margin.bottom;

const svg = d3.select("#chart").append("svg")
    .attr("width", W)
    .attr("height", H);

const g = svg.append("g")
    .attr("transform", `translate(${margin.left},${margin.top})`);

const x = d3.scaleLinear().domain([-60, 60]).range([0, width]);
const y = d3.scaleLinear().domain([2.5, 7.5]).range([height, 0]);

g.append("defs").append("clipPath").attr("id", "clip")
    .append("rect").attr("width", width).attr("height", height);

const line = d3.line().x(d => x(d[0])).y(d => y(d[1]));

const plot = g.append("g").attr("clip-path", "url(#clip)");
seriesData.forEach((data, i) => {
    plot.append("path")
        .datum(data)
        .attr("fill", "none")
        .attr("stroke", seriesColors[i])
        .attr("stroke-width", 1.7)
        .attr("stroke-linejoin", "round")
        .attr("d", line);
});

// zero-discharge dashed line
g.append("line")
    .attr("x1", x(0)).attr("x2", x(0))
    .attr("y1", y(7.5)).attr("y2", y(2.5))
    .attr("stroke", "#000")
    .attr("stroke-width", 1.5)
    .attr("stroke-dasharray", "15,7");

// Full Site / Bankfull
refLines.forEach(r => {
    g.append("line")
        .attr("x1", x(-50)).attr("x2", x(50))
        .attr("y1", y(r.h)).attr("y2", y(r.h))
        .attr("stroke", r.color)
        .attr("stroke-width", r.width);
    g.append("text")
        .attr("x", x(-50))
        .attr("y", y(r.h) - 7)
        .attr("font-size", 24)
        .text(r.label);
});

regionLabels.forEach(r => {
    g.append("text")
        .attr("x", x(r.q))
        .attr("y", y(3) + 12)
        .attr("text-anchor", "middle")
        .attr("font-size", 31)
        .text(r.label);
});

// axes with inward ticks on all four sides
const tickLen = 10;
const axisStyle = sel => {
    sel.selectAll("path, line").attr("stroke", "#262626");
    sel.selectAll("text").attr("font-size", 21).style("fill", "#262626")
        .attr("font-family", "Liberation Sans, Arial, sans-serif");
};

g.append("g")
    .attr("transform", `translate(0,${height})`)
    .call(d3.axisBottom(x).tickValues(xTicks).tickSize(-tickLen).tickSizeOuter(0).tickPadding(18)
        .tickFormat(d => String(d)))
    .call(axisStyle);

g.append("g")
    .call(d3.axisTop(x).tickValues(xTicks).tickSize(-tickLen).tickSizeOuter(0).tickFormat(""))
    .call(axisStyle);

g.append("g")
    .call(d3.axisLeft(y).tickValues(yTicks).tickSize(-tickLen).tickSizeOuter(0).tickPadding(10)
        .tickFormat(d => String(d)))
    .call(axisStyle);

g.append("g")
    .attr("transform", `translate(${width},0)`)
    .call(d3.axisRight(y).tickValues(yTicks).tickSize(-tickLen).tickSizeOuter(0).tickFormat(""))
    .call(axisStyle);

g.selectAll(".domain").attr("stroke-width", 1.2);

// title and axis labels
svg.append("text")
    .attr("x", 641)
    .attr("y", 29)
    .attr("text-anchor", "middle")
    .attr("font-size", 27)
    .attr("font-weight", "bold")
    .style("fill", "#000")
    .text("Discharge vs Water Surface Elevation of All Tides at Inlet");

const xl = svg.append("text")
    .attr("x", 654)
    .attr("y", 1027)
    .attr("text-anchor", "middle")
    .attr("font-size", 29);
xl.append("tspan").text("Instantaneous Discharge (m");
xl.append("tspan").attr("dy", -12).attr("font-size", 19).text("3");
xl.append("tspan").attr("dy", 12).text("/s)");

svg.append("text")
    .attr("transform", `translate(31,497) rotate(-90)`)
    .attr("text-anchor", "middle")
    .attr("font-size", 27)
    .text("Water Surface Elevation (m CGVD2013)");

// legend
const lg = svg.append("g").attr("transform", "translate(918,64)");
lg.append("rect")
    .attr("width", 250).attr("height", 94)
    .attr("fill", "#fff").attr("stroke", "#262626").attr("stroke-width", 1.2);
seriesNames.forEach((name, i) => {
    const yy = 18 + i * 30.5;
    lg.append("line")
        .attr("x1", 8).attr("x2", 80)
        .attr("y1", yy).attr("y2", yy)
        .attr("stroke", seriesColors[i]).attr("stroke-width", 1.8);
    lg.append("text")
        .attr("x", 86).attr("y", yy + 8)
        .attr("font-size", 22)
        .text(name);
});
</script>
</body>
</html>
